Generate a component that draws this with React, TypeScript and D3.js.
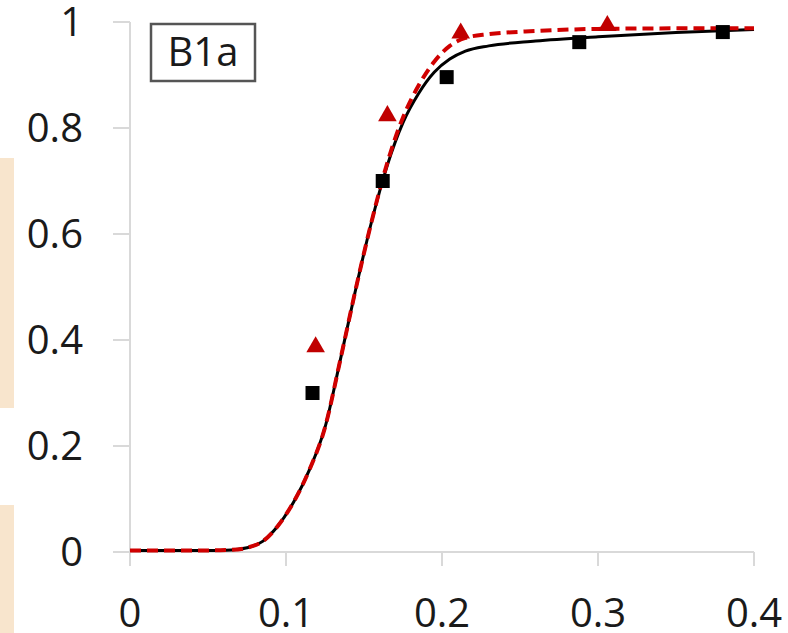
import React from 'react'
import * as d3 from 'd3'

// tick values
const xTicks = [0, 0.1, 0.2, 0.3, 0.4]
const yTicks = [0, 0.2, 0.4, 0.6, 0.8, 1]

// measured points (black squares, red triangles)
const sqX = [0.117, 0.162, 0.203, 0.288, 0.38]
const sqY = [0.30, 0.70, 0.896, 0.962, 0.981]
const triX = [0.119, 0.165, 0.212, 0.306]
const triY = [0.387, 0.823, 0.979, 0.993]

// fitted curves
const blackX = [0, 0.05, 0.065, 0.075, 0.085, 0.095, 0.105, 0.115, 0.125, 0.135, 0.145, 0.155, 0.165, 0.175, 0.185, 0.195, 0.205, 0.215, 0.23, 0.26, 0.3, 0.35, 0.4]
const blackY = [0.003, 0.003, 0.004, 0.008, 0.02, 0.05, 0.095, 0.155, 0.235, 0.365, 0.5, 0.625, 0.73, 0.81, 0.865, 0.905, 0.93, 0.945, 0.955, 0.964, 0.972, 0.98, 0.986]
const redX = [0, 0.05, 0.065, 0.075, 0.085, 0.095, 0.105, 0.115, 0.125, 0.135, 0.145, 0.155, 0.165, 0.175, 0.185, 0.195, 0.205, 0.215, 0.23, 0.26, 0.3, 0.35, 0.4]
const redY = [0.003, 0.003, 0.004, 0.008, 0.02, 0.05, 0.095, 0.155, 0.235, 0.365, 0.5, 0.625, 0.735, 0.82, 0.88, 0.925, 0.955, 0.97, 0.977, 0.983, 0.987, 0.988, 0.988]

const label = 'B1a'

const App = () => {
    const width = 788, height = 633

    const x = d3.scaleLinear().domain([0, 0.4]).range([130, 754])
    const y = d3.scaleLinear().domain([0, 1]).range([552, 22])

    const line = d3.line<[number, number]>()
        .x(d => x(d[0]))
        .y(d => y(d[1]))
        .curve(d3.curveMonotoneX)

    const blackPts = blackX.map((v, i) => [v, blackY[i]] as [number, number])
    const redPts = redX.map((v, i) => [v, redY[i]] as [number, number])

    const font = '"Open Sans", sans-serif'
    const tri = d3.symbol().type(d3.symbolTriangle).size(150)()

    return (
        <svg width={width} height={height}
            style={{ position: 'absolute', left: 0, top: 0, background: '#fff' }}>
            {/* beige strips on the left edge */}
            <rect x={0} y={158} width={14} height={250} fill="#f8e5cd" />
            <rect x={0} y={505} width={14} height={128} fill="#f8e5cd" />

            {/* axes */}
            <line x1={x(0)} x2={x(0)} y1={y(1)} y2={y(0)} stroke="#d9d9d9" strokeWidth={2} />
            <line x1={x(0)} x2={x(0.4)} y1={y(0)} y2={y(0)} stroke="#d9d9d9" strokeWidth={2} />
            {yTicks.map(t => (
                <g key={'y' + t}>
                    <line x1={113} x2={x(0)} y1={y(t)} y2={y(t)} stroke="#d9d9d9" strokeWidth={2} />
                    <text x={83} y={y(t)} dy="0.36em" textAnchor="end"
                        fontFamily={font} fontSize={40} fill="#1a1a1a">{t}</text>
                </g>
            ))}
            {xTicks.map(t => (
                <g key={'x' + t}>
                    <line x1={x(t)} x2={x(t)} y1={y(0)} y2={566} stroke="#d9d9d9" strokeWidth={2} />
                    <text x={x(t)} y={627} textAnchor="middle"
                        fontFamily={font} fontSize={40} fill="#1a1a1a">{t}</text>
                </g>
            ))}

            {/* label box */}
            <rect x={151} y={24} width={104} height={57} fill="#fff" stroke="#555" strokeWidth={2.5} />
            <text x={203} y={52} dy="0.36em" textAnchor="middle"
                fontFamily={font} fontSize={40} fill="#1a1a1a">{label}</text>

            {/* curves */}
            <path d={line(blackPts) || ''} fill="none" stroke="#000" strokeWidth={3} />
            <path d={line(redPts) || ''} fill="none" stroke="#d00000" strokeWidth={4} strokeDasharray="11 6" />

            {/* markers */}
            {sqX.map((v, i) => (
                <rect key={'s' + i} x={x(v) - 7} y={y(sqY[i]) - 7} width={14} height={14} fill="#000" />
            ))}
            {triX.map((v, i) => (
                <path key={'t' + i} d={tri || ''} transform={`translate(${x(v)},${y(triY[i])})`} fill="#c00000" />
            ))}
        </svg>
    )
}

export default App
